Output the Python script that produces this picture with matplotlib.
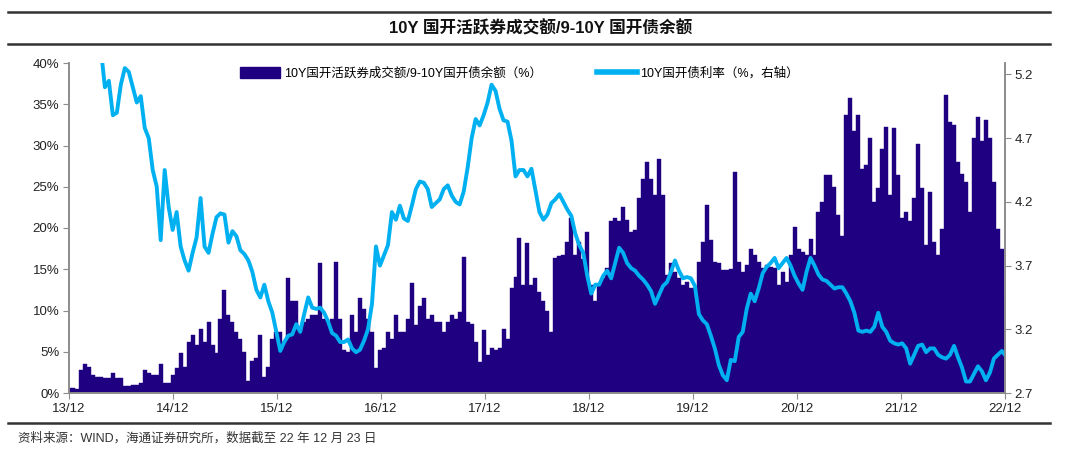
import matplotlib.pyplot as plt
import matplotlib.dates as mdates
from matplotlib.lines import Line2D
from matplotlib.patches import Patch
import pandas as pd

plt.rcParams['font.family'] = ['Liberation Sans Narrow', 'Liberation Sans', 'Noto Sans CJK SC', 'DejaVu Sans']

# biweekly samples, 2013-12-23 .. 2022-12
dates = pd.date_range('2013-12-23', periods=236, freq='14D')

# 10Y 国开活跃券成交额 / 9-10Y 国开债余额 (%)
turnover_ratio = [
    0.6, 0.6, 0.5, 2.8, 3.5, 3.2, 2.2, 2.0, 2.0, 1.8,
    1.8, 2.4, 1.8, 1.8, 0.8, 0.8, 1.0, 1.0, 1.2, 2.8,
    2.4, 2.2, 2.2, 3.5, 1.2, 1.2, 2.2, 3.0, 4.8, 3.2,
    6.2, 7.0, 5.8, 7.8, 6.2, 8.6, 5.8, 4.8, 9.0, 12.5,
    9.4, 8.6, 7.4, 6.6, 5.0, 1.4, 3.9, 4.3, 7.0, 2.0,
    3.2, 6.6, 7.4, 7.4, 6.2, 13.9, 11.1, 11.1, 7.5, 8.6,
    9.0, 9.4, 9.4, 15.7, 9.0, 8.6, 9.0, 15.9, 9.0, 5.2,
    5.0, 9.4, 7.4, 11.5, 10.2, 9.0, 7.4, 3.0, 5.2, 5.4,
    7.4, 6.6, 9.4, 7.4, 7.4, 9.0, 13.3, 8.2, 10.6, 11.5,
    9.0, 9.4, 8.6, 8.6, 7.4, 8.6, 9.4, 9.0, 9.8, 16.5,
    8.6, 8.4, 6.2, 3.8, 7.6, 4.6, 5.4, 5.2, 5.4, 7.8,
    6.6, 12.7, 14.1, 18.8, 13.1, 18.2, 13.1, 13.9, 12.3, 11.1,
    9.9, 7.4, 16.4, 16.6, 16.7, 18.3, 21.2, 16.7, 18.3, 16.3,
    19.5, 13.1, 11.1, 13.1, 14.0, 15.1, 20.8, 21.2, 20.8, 22.6,
    21.0, 19.5, 19.7, 23.6, 26.0, 28.0, 26.0, 24.0, 28.4, 24.0,
    14.3, 15.7, 14.7, 14.0, 13.1, 13.5, 12.7, 12.7, 15.9, 18.3,
    22.8, 18.5, 15.9, 15.7, 14.9, 14.9, 15.0, 26.8, 15.9, 14.7,
    15.5, 17.5, 16.7, 15.9, 15.1, 15.5, 15.3, 15.1, 13.1, 14.7,
    13.5, 16.7, 20.1, 17.5, 17.1, 16.7, 18.7, 16.7, 22.0, 23.2,
    26.4, 26.4, 25.0, 21.6, 19.0, 33.7, 35.7, 31.7, 33.7, 27.2,
    27.6, 30.9, 23.2, 24.8, 29.6, 32.3, 24.0, 32.1, 26.4, 21.2,
    22.0, 20.8, 23.6, 30.2, 24.8, 17.9, 24.4, 18.3, 16.7, 19.9,
    36.1, 32.9, 32.5, 28.0, 26.6, 25.6, 22.0, 30.9, 33.5, 30.5,
    33.1, 30.9, 25.6, 19.9, 17.5, 11.1,
]

# 10Y 国开债利率 (%)
cdb_yield = [
    5.60, 5.62, 5.65, 5.70, 5.72, 5.68, 5.60, 5.52, 5.40, 5.10,
    5.15, 4.88, 4.90, 5.12, 5.25, 5.22, 5.10, 4.98, 5.03, 4.78,
    4.70, 4.45, 4.32, 3.90, 4.45, 4.16, 3.98, 4.12, 3.85, 3.74,
    3.66, 3.80, 3.92, 4.23, 3.85, 3.80, 3.95, 4.08, 4.11, 4.10,
    3.88, 3.97, 3.93, 3.82, 3.79, 3.74, 3.65, 3.51, 3.45, 3.55,
    3.42, 3.33, 3.18, 3.03, 3.10, 3.15, 3.16, 3.24, 3.18, 3.32,
    3.45, 3.37, 3.36, 3.37, 3.33, 3.26, 3.17, 3.15, 3.10, 3.10,
    3.12, 3.05, 3.02, 3.04, 3.11, 3.20, 3.40, 3.85, 3.70, 3.78,
    3.86, 4.12, 4.06, 4.17, 4.07, 4.05, 4.17, 4.30, 4.36, 4.35,
    4.30, 4.16, 4.19, 4.22, 4.30, 4.33, 4.25, 4.20, 4.18, 4.28,
    4.47, 4.70, 4.85, 4.80, 4.88, 4.98, 5.12, 5.07, 4.93, 4.84,
    4.83, 4.68, 4.40, 4.45, 4.45, 4.40, 4.46, 4.29, 4.12, 4.06,
    4.10, 4.19, 4.22, 4.26, 4.20, 4.14, 4.09, 3.95, 3.86, 3.80,
    3.62, 3.48, 3.55, 3.55, 3.62, 3.66, 3.60, 3.72, 3.84, 3.80,
    3.72, 3.68, 3.66, 3.62, 3.59, 3.55, 3.50, 3.40, 3.47, 3.54,
    3.57, 3.65, 3.74, 3.66, 3.60, 3.61, 3.60, 3.54, 3.32, 3.27,
    3.24, 3.15, 3.05, 2.92, 2.84, 2.80, 2.96, 2.95, 3.14, 3.18,
    3.36, 3.48, 3.42, 3.52, 3.64, 3.69, 3.72, 3.76, 3.68, 3.72,
    3.76, 3.70, 3.62, 3.56, 3.51, 3.65, 3.76, 3.70, 3.63, 3.59,
    3.58, 3.55, 3.52, 3.53, 3.53, 3.48, 3.42, 3.33, 3.19, 3.18,
    3.19, 3.18, 3.22, 3.33, 3.22, 3.18, 3.11, 3.09, 3.08, 3.09,
    3.05, 2.93, 3.00, 3.07, 3.08, 3.02, 3.05, 3.05, 3.00, 2.98,
    2.97, 3.00, 3.07, 2.98, 2.90, 2.79, 2.79, 2.85, 2.91, 2.87,
    2.80, 2.86, 2.97, 3.00, 3.03, 2.99,
]

left_ticks = [0, 5, 10, 15, 20, 25, 30, 35, 40]
right_ticks = [2.7, 3.2, 3.7, 4.2, 4.7, 5.2]
year_ticks = pd.date_range('2013-12-23', periods=10, freq=pd.DateOffset(years=1))

bar_color = '#1f0080'
line_color = '#00b0f0'
grey = '#8c8c8c'
text_color = '#222222'

fig = plt.figure(figsize=(10.8, 4.67), dpi=100)
ax = fig.add_axes([69 / 1080, 74 / 467, 936 / 1080, 330 / 467])
ax2 = ax.twinx()

ax.bar(dates, turnover_ratio, width=14, color=bar_color, edgecolor=bar_color, linewidth=0.3)
ax2.plot(dates, cdb_yield, color=line_color, linewidth=2.8)

ax.set_xlim(pd.Timestamp('2013-12-23'), pd.Timestamp('2022-12-23'))
ax.set_ylim(0, 40)
ax2.set_ylim(2.7, 5.29)

ax.set_yticks(left_ticks)
ax.set_yticklabels([f'{t}%' for t in left_ticks])
ax2.set_yticks(right_ticks)
ax2.set_yticklabels([f'{t:.1f}' for t in right_ticks])
ax.set_xticks(year_ticks)
ax.xaxis.set_major_formatter(mdates.DateFormatter('%y/%m'))

for a in (ax, ax2):
    a.spines['top'].set_visible(False)
    for s in ('left', 'right', 'bottom'):
        a.spines[s].set_color(grey)
        a.spines[s].set_linewidth(1.2)
    a.tick_params(direction='out', length=4, color=grey, labelsize=9.5,
                  labelcolor=text_color, pad=3)

handles = [Patch(facecolor=bar_color, edgecolor=bar_color),
           Line2D([0], [0], color=line_color, linewidth=4)]
labels = ['10Y国开活跃券成交额/9-10Y国开债余额（%）', '10Y国开债利率（%，右轴）']
fig.legend(handles, labels, loc='center left', bbox_to_anchor=(240 / 1080, 1 - 73 / 467),
           ncol=2, frameon=False, fontsize=9, handlelength=3.2, handleheight=1.0,
           handletextpad=0.3, columnspacing=4.4, borderaxespad=0, borderpad=0)

fig.text(541 / 1080, 1 - 28 / 467, '10Y 国开活跃券成交额/9-10Y 国开债余额',
         ha='center', va='center', fontsize=12, fontweight='bold', color='#111111')
fig.text(18 / 1080, 1 - 438 / 467, '资料来源：WIND，海通证券研究所，数据截至 22 年 12 月 23 日',
         ha='left', va='center', fontsize=9, color='#333333')

for y in (12, 44, 423):
    fig.add_artist(Line2D([8 / 1080, 1050 / 1080], [1 - y / 467, 1 - y / 467],
                          color='#333333', linewidth=1.8))

fig.savefig('out.png', dpi=100)
